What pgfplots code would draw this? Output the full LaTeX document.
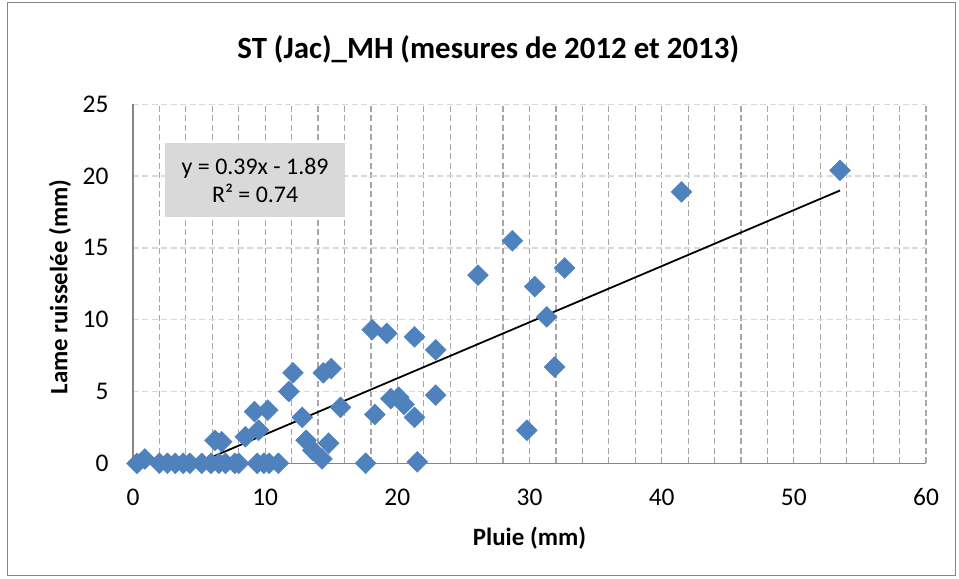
\documentclass[border=0pt]{standalone}
\usepackage{fontspec}
\setmainfont{Carlito}
\usepackage{pgfplots}
\pgfplotsset{compat=1.18}
\definecolor{mk}{HTML}{4F81BD}
\definecolor{vgrid}{HTML}{A6A6A6}
\definecolor{hgrid}{HTML}{D9D9D9}
\definecolor{axgray}{HTML}{868686}
\definecolor{boxgray}{HTML}{D9D9D9}
\begin{document}
\begin{tikzpicture}
\begin{axis}[
  name=ax,
  scale only axis,
  width=793bp, height=359bp,
  xmin=0, xmax=60, ymin=0, ymax=25,
  xtick={0,10,...,60},
  ytick={0,5,...,25},
  minor xtick={0,2,...,60},
  xminorgrids=true,
  ymajorgrids=true,
  minor x grid style={vgrid, line width=1.2bp, dash pattern=on 6bp off 3.5bp},
  y grid style={hgrid, line width=1.3bp, dash pattern=on 6bp off 3.5bp},
  axis x line*=bottom,
  axis y line*=left,
  axis line style={axgray, line width=1.5bp, -},
  major tick length=0pt, minor tick length=0pt,
  /pgf/number format/assume math mode=true,
  ticklabel style={font=\fontsize{25.5}{25.5}\selectfont, black},
  xticklabel style={yshift=-22bp},
  yticklabel style={xshift=-21bp},
  xlabel={\textbf{Pluie (mm)}},
  ylabel={\textbf{Lame ruisselée (mm)}},
  xlabel style={font=\fontsize{25}{25}\selectfont, at={(axis description cs:0.5,-0.208)}, anchor=center},
  ylabel style={font=\fontsize{25}{25}\selectfont, at={(axis description cs:-0.092,0.491)}, anchor=center, rotate=0},
  title={\textbf{ST (Jac)\_MH (mesures de 2012 et 2013)}},
  title style={font=\fontsize{31}{31}\selectfont, at={(axis description cs:0.448,1.137)}, anchor=center},
  clip=false,
]
\addplot[only marks, mark=square*, mark size=7.4bp, mark options={rotate=45, fill=mk, draw=mk}] table {
x y
0.3 0
0.9 0.3
2.0 0
2.6 0
3.2 0
3.8 0
4.3 0
5.2 0
5.9 0
6.5 0
7.0 0
7.7 0
8.0 0
9.4 0
9.9 0
10.3 0
11.0 0
6.2 1.6
6.7 1.5
8.5 1.85
9.5 2.3
9.2 3.6
10.2 3.7
11.8 5.0
12.1 6.3
12.8 3.2
13.1 1.6
13.6 0.9
14.3 0.3
14.8 1.4
14.4 6.3
15.0 6.6
15.7 3.9
17.6 0
18.1 9.3
18.3 3.4
19.2 9.05
19.5 4.5
20.1 4.6
20.5 4.1
21.3 3.2
21.5 0.1
21.3 8.8
22.9 7.9
22.9 4.75
26.1 13.1
28.7 15.5
29.8 2.3
30.4 12.3
31.3 10.2
31.9 6.7
32.65 13.6
41.5 18.9
53.5 20.4
};
\addplot[black, line width=1.8bp] coordinates {(4.85,0) (53.5,19.0)};
\node[fill=boxgray, minimum width=180bp, minimum height=74bp, align=center, font=\fontsize{24}{29}\selectfont, inner sep=0pt] at (axis cs:9.24,19.7) {y = 0.39x - 1.89\\R² = 0.74};
\end{axis}
\draw[axgray, line width=1bp] ([shift={(-125bp,-112.5bp)}]ax.south west) rectangle ([shift={(822bp,460.5bp)}]ax.south west);
\path[use as bounding box] ([shift={(-133bp,-115.7bp)}]ax.south west) rectangle ([shift={(826bp,463.3bp)}]ax.south west);
\end{tikzpicture}
\end{document}
